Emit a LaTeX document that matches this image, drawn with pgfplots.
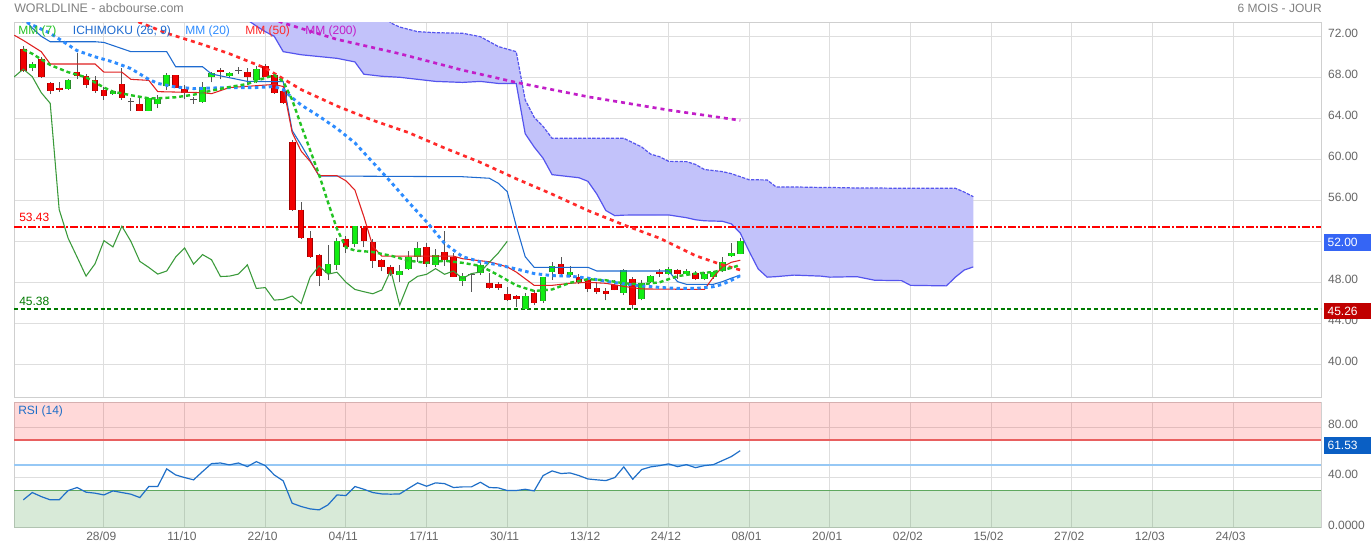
\documentclass[border=0pt]{standalone}
\usepackage{fontspec}
\setmainfont{Liberation Sans}
\usepackage{pgfplots}
\pgfplotsset{compat=1.18}
\usepackage{pgfplotstable}

\definecolor{gridc}{HTML}{DEDEDE}
\definecolor{framec}{HTML}{CFCFCF}
\definecolor{txtgray}{HTML}{666666}
\definecolor{titlegray}{HTML}{808080}
\definecolor{cgreen}{HTML}{11EE11}
\definecolor{cgreenD}{HTML}{2A8A2A}
\definecolor{cred}{HTML}{F20000}
\definecolor{credD}{HTML}{A00000}
\definecolor{wick}{HTML}{555555}
\definecolor{mm7}{HTML}{22C322}
\definecolor{mm20}{HTML}{2D8CFF}
\definecolor{mm50}{HTML}{FF2A2A}
\definecolor{mm200}{HTML}{C21EC8}
\definecolor{tenkan}{HTML}{E02020}
\definecolor{kijun}{HTML}{1E6BD0}
\definecolor{chikou}{HTML}{3A9A3A}
\definecolor{cloudfill}{HTML}{C2C2FA}
\definecolor{cloudline}{HTML}{5555EE}
\definecolor{supg}{HTML}{007A00}
\definecolor{rsiblue}{HTML}{1F6FC8}
\definecolor{boxblue}{HTML}{3565F5}
\definecolor{boxred}{HTML}{C00000}
\definecolor{boxrsi}{HTML}{0A5FC4}

% daily closes, index 0 = 28/09 (used for the lagging line, shifted 26 days back)
\pgfplotstableread{
i c
-9 68.6
-8 69.3
-7 68.0
-6 66.7
-5 66.8
-4 67.7
-3 68.1
-2 67.2
-1 66.7
0 66.2
1 66.7
2 66.0
3 65.6
4 64.75
5 65.95
6 65.85
7 68.2
8 67.0
9 66.5
10 65.8
11 67.1
12 68.4
13 68.5
14 68.4
15 68.7
16 68.06
17 68.8
18 68.06
19 66.5
20 65.46
21 55.1
22 52.3
23 50.46
24 48.6
25 49.8
26 52.06
27 51.45
28 53.47
29 52.0
30 50.04
31 49.45
32 48.8
33 49.1
34 50.46
35 51.34
36 49.77
37 50.7
38 50.2
39 48.56
40 48.6
41 48.8
42 49.7
43 47.4
44 47.48
45 46.26
46 46.33
47 46.66
48 45.93
49 48.5
50 49.6
51 48.8
52 48.98
53 48.0
54 47.3
55 47.08
56 46.88
57 47.25
58 49.15
59 45.77
60 47.97
61 48.58
62 48.78
63 49.33
64 48.78
65 49.1
66 48.36
67 48.85
68 49.0
69 49.95
70 50.86
71 52.0
}\closes

% Ichimoku cloud: a = lower (solid), b = upper (dashed)
\pgfplotstableread{
i a b
10 76 77
16 73.6 77
17 73.0 77
18 72.45 77
19 72.0 77
20 70.5 77
22 70.2 77
26 69.85 77
28 69.5 77
29 68.3 76
31 68.1 74.5
32 68.05 73.3
33 68.0 72.9
35 67.8 72.45
37 67.6 72.35
40 67.5 72.3
42 67.6 71.96
44 67.4 71.0
46 67.4 70.5
47 62.5 65.8
48 61.2 64.1
49 60.1 63.2
50 58.5 62.05
53 58.2 62.05
54 57.85 62.05
55 56.6 62.05
56 55.0 62.05
57 54.5 62.05
58 54.55 62.05
60 54.57 61.2
61 54.57 60.5
62 54.57 60.25
63 54.57 59.8
65 54.3 59.77
66 54.1 59.5
67 54.0 59.0
69 53.95 58.8
70 53.7 58.6
71 52.8 58.3
72 51.0 58.0
73 49.3 58.0
74 48.5 57.98
75 48.55 57.3
77 48.7 57.3
80 48.6 57.25
81 48.5 57.25
84 48.55 57.2
86 48.2 57.2
89 48.16 57.17
90 47.7 57.17
94 47.65 57.17
95 48.5 57.17
96 49.2 56.8
97 49.5 56.35
}\cloud

% RSI (14)
\pgfplotstableread{
i r
-9 22.4
-8 28.2
-7 25.0
-6 22.4
-5 22.4
-4 29.8
-3 32.2
-2 28.5
-1 27.7
0 26.3
1 29.5
2 28.2
3 26.9
4 24.2
5 33.0
6 33.0
7 47.0
8 42.2
9 40.1
10 38.3
11 44.9
12 51.2
13 51.7
14 50.2
15 51.7
16 48.8
17 52.8
18 49.6
19 42.2
20 37.5
21 19.7
22 17.1
23 15.2
24 14.4
25 18.4
26 26.3
27 25.8
28 33.0
29 30.8
30 28.2
31 27.1
32 26.9
33 27.1
34 31.6
35 35.9
36 33.2
37 35.9
38 35.3
39 32.2
40 32.7
41 32.7
42 36.4
43 32.2
44 31.9
45 29.8
46 29.8
47 30.8
48 29.5
49 41.7
50 45.4
51 43.3
52 43.8
53 41.7
54 39.0
55 38.3
56 37.7
57 40.1
58 48.6
59 38.8
60 46.5
61 48.6
62 49.6
63 51.0
64 48.8
65 50.4
66 48.0
67 49.6
68 50.4
69 53.6
70 56.8
71 61.5
}\rsi

\pgfplotsset{
  panel/.style={
    anchor=south west, scale only axis, width=980.25pt,
    xmin=-10.04, xmax=135.8,
    xtick={0,9,...,126},
    yticklabel pos=right,
    tick style={draw=none},
    grid=major, major grid style={draw=gridc, line width=0.75pt},
    axis line style={draw=framec, line width=0.75pt},
    tick label style={font=\fontsize{9}{10}\selectfont, text=txtgray},
    yticklabel style={anchor=west, xshift=1.8pt, yshift=2.25pt},
  },
  segs/.style={unbounded coords=jump, line cap=butt, mark=none},
}

\begin{document}
\begin{tikzpicture}
\fill[white] (0,0) rectangle (1028.25pt,412.5pt);

% ---------------- price panel ----------------
\begin{axis}[panel,
  at={(10.5pt,114pt)}, height=281.5pt,
  ymin=36.71, ymax=73.33,
  xticklabels={},
  ytick={40,44,...,72},
  yticklabels={40.00,44.00,48.00,,56.00,60.00,64.00,68.00,72.00},
]
% cloud area (upper edge left to right, lower edge back)
\addplot[fill=cloudfill, draw=none] coordinates {
(10,77) (28,77) (29,76) (31,74.5) (32,73.3) (33,72.9) (35,72.45) (37,72.35) (40,72.3) (42,71.96)
(44,71.0) (46,70.5) (47,65.8) (48,64.1) (49,63.2) (50,62.05) (58,62.05) (60,61.2) (61,60.5)
(62,60.25) (63,59.8) (65,59.77) (66,59.5) (67,59.0) (69,58.8) (70,58.6) (71,58.3) (72,58.0)
(74,57.98) (75,57.3) (77,57.3) (80,57.25) (84,57.2) (89,57.17) (95,57.17) (96,56.8) (97,56.35)
(97,49.5) (96,49.2) (95,48.5) (94,47.65) (90,47.7) (89,48.16) (86,48.2) (84,48.55) (81,48.5)
(80,48.6) (77,48.7) (75,48.55) (74,48.5) (73,49.3) (72,51.0) (71,52.8) (70,53.7) (69,53.95)
(67,54.0) (66,54.1) (65,54.3) (63,54.57) (58,54.55) (57,54.5) (56,55.0) (55,56.6) (54,57.85)
(53,58.2) (50,58.5) (49,60.1) (48,61.2) (47,62.5) (46,67.4) (44,67.4) (42,67.6) (40,67.5)
(37,67.6) (35,67.8) (33,68.0) (32,68.05) (31,68.1) (29,68.3) (28,69.5) (26,69.85) (22,70.2)
(20,70.5) (19,72.0) (18,72.45) (17,73.0) (16,73.6) (10,76)};
\addplot[cloudline, line width=0.9pt] table[x=i, y=a] \cloud;
\addplot[cloudline, line width=0.9pt, dash pattern=on 2.5pt off 1pt] table[x=i, y=b] \cloud;

% support / resistance
\addplot[red, line width=1.5pt, dash pattern=on 6pt off 1.5pt on 1.5pt off 1.5pt]
  coordinates {(-10.04,53.43) (135.8,53.43)};
\addplot[supg, line width=1.5pt, dash pattern=on 3pt off 2pt]
  coordinates {(-10.04,45.38) (135.8,45.38)};

% candles: wicks (low, high)
\addplot[segs, wick, line width=0.75pt] coordinates {
(-9,68.5) (-9,71.05) (-9,nan) (-8,68.6) (-8,69.5) (-8,nan) (-7,67.95) (-7,70.0) (-7,nan)
(-6,66.4) (-6,67.5) (-6,nan) (-5,66.6) (-5,67.5) (-5,nan) (-4,66.8) (-4,67.8) (-4,nan)
(-3,67.8) (-3,70.4) (-3,nan) (-2,67.0) (-2,68.3) (-2,nan) (-1,66.5) (-1,68.1) (-1,nan)
(0,65.8) (0,67.1) (0,nan) (1,66.3) (1,66.8) (1,nan) (2,65.8) (2,68.9) (2,nan)
(3,64.75) (3,65.95) (3,nan) (4,64.7) (4,66.1) (4,nan) (5,64.7) (5,66.0) (5,nan)
(6,65.0) (6,66.3) (6,nan) (7,66.8) (7,68.4) (7,nan) (8,67.0) (8,68.25) (8,nan)
(9,65.85) (9,67.2) (9,nan) (10,65.4) (10,66.1) (10,nan) (11,65.5) (11,67.5) (11,nan)
(12,67.5) (12,68.55) (12,nan) (13,67.8) (13,68.9) (13,nan) (14,68.0) (14,68.5) (14,nan)
(15,68.3) (15,69.0) (15,nan) (16,67.2) (16,68.9) (16,nan) (17,67.4) (17,69.1) (17,nan)
(18,68.0) (18,69.3) (18,nan) (19,66.4) (19,68.4) (19,nan) (20,65.4) (20,66.9) (20,nan)
(21,55.0) (21,61.9) (21,nan) (22,52.25) (22,55.8) (22,nan) (23,50.4) (23,53.0) (23,nan)
(24,47.6) (24,50.75) (24,nan) (25,48.2) (25,51.6) (25,nan) (26,49.2) (26,52.3) (26,nan)
(27,50.9) (27,52.5) (27,nan) (28,51.4) (28,53.5) (28,nan) (29,51.4) (29,53.5) (29,nan)
(30,49.4) (30,52.2) (30,nan) (31,49.06) (31,50.25) (31,nan) (32,48.57) (32,49.7) (32,nan)
(33,48.0) (33,49.65) (33,nan) (34,49.2) (34,51.1) (34,nan) (35,50.0) (35,51.9) (35,nan)
(36,49.5) (36,51.8) (36,nan) (37,49.5) (37,51.2) (37,nan) (38,49.6) (38,53.0) (38,nan)
(39,48.5) (39,50.9) (39,nan) (40,47.64) (40,48.95) (40,nan) (41,47.1) (41,48.9) (41,nan)
(42,48.7) (42,49.9) (42,nan) (43,47.3) (43,48.9) (43,nan) (44,47.25) (44,48.07) (44,nan)
(45,46.2) (45,47.5) (45,nan) (46,45.6) (46,46.75) (46,nan) (47,45.35) (47,46.98) (47,nan)
(48,45.77) (48,47.2) (48,nan) (49,46.0) (49,48.56) (49,nan) (50,48.2) (50,50.0) (50,nan)
(51,48.56) (51,50.5) (51,nan) (52,48.56) (52,49.6) (52,nan) (53,47.84) (53,48.8) (53,nan)
(54,47.1) (54,48.56) (54,nan) (55,46.85) (55,48.07) (55,nan) (56,46.26) (56,47.4) (56,nan)
(57,47.2) (57,48.2) (57,nan) (58,46.75) (58,49.28) (58,nan) (59,45.44) (59,48.56) (59,nan)
(60,46.24) (60,48.2) (60,nan) (61,47.9) (61,48.7) (61,nan) (62,48.5) (62,49.3) (62,nan)
(63,48.7) (63,49.5) (63,nan) (64,48.36) (64,49.33) (64,nan) (65,48.7) (65,49.33) (65,nan)
(66,48.2) (66,49.1) (66,nan) (67,48.2) (67,49.0) (67,nan) (68,48.36) (68,49.1) (68,nan)
(69,49.0) (69,50.5) (69,nan) (70,50.47) (70,51.84) (70,nan) (71,50.73) (71,52.3)};
% rising bodies (open, close)
\addplot[segs, cgreenD, line width=5pt] coordinates {
(-8,68.9) (-8,69.3) (-8,nan) (-4,66.9) (-4,67.7) (-4,nan) (1,66.4) (1,66.7) (1,nan)
(5,64.75) (5,65.95) (5,nan) (6,65.36) (6,65.85) (6,nan) (7,67.15) (7,68.2) (7,nan)
(11,65.6) (11,67.1) (11,nan) (12,68.0) (12,68.4) (12,nan) (14,68.15) (14,68.4) (14,nan)
(17,67.7) (17,68.8) (17,nan) (25,48.9) (25,49.8) (25,nan) (26,49.7) (26,52.06) (26,nan)
(28,51.77) (28,53.47) (28,nan) (33,48.7) (33,49.1) (33,nan) (34,49.28) (34,50.46) (34,nan)
(35,50.5) (35,51.34) (35,nan) (37,49.7) (37,50.7) (37,nan) (40,48.16) (40,48.6) (40,nan)
(42,48.9) (42,49.7) (42,nan) (47,45.44) (47,46.66) (47,nan) (49,46.2) (49,48.5) (49,nan)
(50,49.05) (50,49.6) (50,nan) (52,48.72) (52,48.98) (52,nan) (58,46.98) (58,49.15) (58,nan)
(60,46.34) (60,47.97) (60,nan) (61,48.03) (61,48.58) (61,nan) (63,48.85) (63,49.33) (63,nan)
(65,48.78) (65,49.1) (65,nan) (67,48.3) (67,48.85) (67,nan) (68,48.5) (68,49.0) (68,nan)
(69,49.1) (69,49.95) (69,nan) (70,50.54) (70,50.86) (70,nan) (71,50.8) (71,52.0)};
\addplot[segs, cgreen, line width=3.5pt] coordinates {
(-8,68.9) (-8,69.3) (-8,nan) (-4,66.9) (-4,67.7) (-4,nan) (1,66.4) (1,66.7) (1,nan)
(5,64.75) (5,65.95) (5,nan) (6,65.36) (6,65.85) (6,nan) (7,67.15) (7,68.2) (7,nan)
(11,65.6) (11,67.1) (11,nan) (12,68.0) (12,68.4) (12,nan) (14,68.15) (14,68.4) (14,nan)
(17,67.7) (17,68.8) (17,nan) (25,48.9) (25,49.8) (25,nan) (26,49.7) (26,52.06) (26,nan)
(28,51.77) (28,53.47) (28,nan) (33,48.7) (33,49.1) (33,nan) (34,49.28) (34,50.46) (34,nan)
(35,50.5) (35,51.34) (35,nan) (37,49.7) (37,50.7) (37,nan) (40,48.16) (40,48.6) (40,nan)
(42,48.9) (42,49.7) (42,nan) (47,45.44) (47,46.66) (47,nan) (49,46.2) (49,48.5) (49,nan)
(50,49.05) (50,49.6) (50,nan) (52,48.72) (52,48.98) (52,nan) (58,46.98) (58,49.15) (58,nan)
(60,46.34) (60,47.97) (60,nan) (61,48.03) (61,48.58) (61,nan) (63,48.85) (63,49.33) (63,nan)
(65,48.78) (65,49.1) (65,nan) (67,48.3) (67,48.85) (67,nan) (68,48.5) (68,49.0) (68,nan)
(69,49.1) (69,49.95) (69,nan) (70,50.54) (70,50.86) (70,nan) (71,50.8) (71,52.0)};
% falling bodies (open, close)
\addplot[segs, credD, line width=5pt] coordinates {
(-9,70.8) (-9,68.6) (-9,nan) (-7,69.8) (-7,68.0) (-7,nan) (-6,67.4) (-6,66.7) (-6,nan)
(-5,67.0) (-5,66.8) (-5,nan) (-3,68.5) (-3,68.1) (-3,nan) (-2,68.1) (-2,67.2) (-2,nan)
(-1,67.7) (-1,66.7) (-1,nan) (0,66.8) (0,66.2) (0,nan) (2,67.3) (2,66.0) (2,nan)
(4,65.4) (4,64.75) (4,nan) (8,68.2) (8,67.0) (8,nan) (9,66.9) (9,66.5) (9,nan)
(13,68.7) (13,68.5) (13,nan) (16,68.5) (16,68.06) (16,nan) (18,69.1) (18,68.06) (18,nan)
(19,68.2) (19,66.5) (19,nan) (20,66.7) (20,65.46) (20,nan) (21,61.7) (21,55.1) (21,nan)
(22,55.1) (22,52.3) (22,nan) (23,52.3) (23,50.46) (23,nan) (24,50.7) (24,48.6) (24,nan)
(27,52.26) (27,51.45) (27,nan) (29,53.34) (29,52.0) (29,nan) (30,51.93) (30,50.04) (30,nan)
(31,50.2) (31,49.45) (31,nan) (32,49.5) (32,48.8) (32,nan) (36,51.44) (36,49.77) (36,nan)
(38,51.0) (38,50.2) (38,nan) (39,50.46) (39,48.56) (39,nan) (43,47.97) (43,47.4) (43,nan)
(44,47.84) (44,47.48) (44,nan) (45,46.9) (45,46.26) (45,nan) (46,46.66) (46,46.33) (46,nan)
(48,46.98) (48,45.93) (48,nan) (51,49.8) (51,48.8) (51,nan) (53,48.56) (53,48.0) (53,nan)
(54,48.3) (54,47.3) (54,nan) (55,47.4) (55,47.08) (55,nan) (56,47.15) (56,46.88) (56,nan)
(57,47.74) (57,47.25) (57,nan) (59,48.3) (59,45.77) (59,nan) (62,49.0) (62,48.78) (62,nan)
(64,49.23) (64,48.78) (64,nan) (66,48.9) (66,48.36)};
\addplot[segs, cred, line width=3.5pt] coordinates {
(-9,70.8) (-9,68.6) (-9,nan) (-7,69.8) (-7,68.0) (-7,nan) (-6,67.4) (-6,66.7) (-6,nan)
(-5,67.0) (-5,66.8) (-5,nan) (-3,68.5) (-3,68.1) (-3,nan) (-2,68.1) (-2,67.2) (-2,nan)
(-1,67.7) (-1,66.7) (-1,nan) (0,66.8) (0,66.2) (0,nan) (2,67.3) (2,66.0) (2,nan)
(4,65.4) (4,64.75) (4,nan) (8,68.2) (8,67.0) (8,nan) (9,66.9) (9,66.5) (9,nan)
(13,68.7) (13,68.5) (13,nan) (16,68.5) (16,68.06) (16,nan) (18,69.1) (18,68.06) (18,nan)
(19,68.2) (19,66.5) (19,nan) (20,66.7) (20,65.46) (20,nan) (21,61.7) (21,55.1) (21,nan)
(22,55.1) (22,52.3) (22,nan) (23,52.3) (23,50.46) (23,nan) (24,50.7) (24,48.6) (24,nan)
(27,52.26) (27,51.45) (27,nan) (29,53.34) (29,52.0) (29,nan) (30,51.93) (30,50.04) (30,nan)
(31,50.2) (31,49.45) (31,nan) (32,49.5) (32,48.8) (32,nan) (36,51.44) (36,49.77) (36,nan)
(38,51.0) (38,50.2) (38,nan) (39,50.46) (39,48.56) (39,nan) (43,47.97) (43,47.4) (43,nan)
(44,47.84) (44,47.48) (44,nan) (45,46.9) (45,46.26) (45,nan) (46,46.66) (46,46.33) (46,nan)
(48,46.98) (48,45.93) (48,nan) (51,49.8) (51,48.8) (51,nan) (53,48.56) (53,48.0) (53,nan)
(54,48.3) (54,47.3) (54,nan) (55,47.4) (55,47.08) (55,nan) (56,47.15) (56,46.88) (56,nan)
(57,47.74) (57,47.25) (57,nan) (59,48.3) (59,45.77) (59,nan) (62,49.0) (62,48.78) (62,nan)
(64,49.23) (64,48.78) (64,nan) (66,48.9) (66,48.36)};
% crosses (open = close)
\addplot[segs, wick, line width=5pt] coordinates {
(3,65.55) (3,65.65) (3,nan) (10,65.75) (10,65.85) (10,nan) (15,68.65) (15,68.75) (15,nan)
(41,48.75) (41,48.85)};

% Ichimoku lines
\addplot[kijun, line width=0.8pt] coordinates {
(-10,74.3) (-9,73.8) (-8,72.8) (-7,72.0) (-6,71.47) (-1,71.47) (0,71.4) (3,70.5) (7,70.5) (8,69.03)
(11,69.03) (12,68.32) (16,67.6) (20,67.57) (21,62.8) (22,61.4) (23,59.9) (24,58.37) (40,58.3)
(43,58.15) (44,57.66) (45,56.84) (46,53.5) (47,50.5) (48,49.46) (54,49.46) (55,49.1) (63,49.1)
(64,48.06) (65,47.8) (68,47.8) (69,48.06) (70,48.4) (71,48.7)};
\addplot[tenkan, line width=0.8pt] coordinates {
(-10,72.1) (-9,71.6) (-7,70.5) (-6,69.3) (-1,69.3) (0,68.5) (2,68.5) (3,67.8) (5,67.7)
(6,66.6) (11,66.5) (12,66.4) (14,67.0) (19,67.3) (20,67.1) (21,62.6) (22,60.8) (23,59.8)
(24,58.4) (26,58.4) (27,57.9) (28,57.0) (29,54.4) (30,51.5) (31,50.55) (39,50.55) (40,50.3)
(43,50.0) (45,49.5) (46,49.0) (48,47.7) (50,47.7) (52,47.9) (54,48.0) (56,47.9) (58,47.6)
(60,47.35) (67,47.3) (68,48.5) (69,49.5) (70,49.95) (71,50.15)};
\addplot[chikou, line width=0.8pt] table[x expr=\thisrow{i}-26, y=c] \closes;

% moving averages
\addplot[mm200, line width=2pt, dash pattern=on 3pt off 3pt] coordinates {
(17,74.3) (20,73.3) (26,71.7) (33,70.3) (40,68.7) (46,67.5) (54,66.1) (63,64.8) (71,63.8)};
\addplot[mm50, line width=2pt, dash pattern=on 3pt off 3pt] coordinates {
(3,73.7) (7,72.3) (11,71.2) (14,70.3) (18,68.9) (22,66.8) (26,65.2) (30,63.8) (34,62.6)
(38,61.1) (42,59.7) (46,58.1) (50,56.6) (54,55.0) (58,53.6) (62,52.3) (66,50.6) (69,49.7) (71,49.2)};
\addplot[mm20, line width=2.2pt, dash pattern=on 2.6pt off 2.6pt] coordinates {
(-10,73.9) (-8,73.1) (-6,72.3) (-3,70.6) (-1,70.0) (1,69.5) (3,68.85) (5,67.8) (6,67.4)
(8,67.05) (10,66.9) (12,66.95) (14,67.0) (17,67.0) (19,67.1) (20,66.8) (21,66.0) (22,65.3)
(24,64.2) (26,63.0) (28,61.6) (30,59.7) (32,57.8) (34,55.8) (36,53.9) (38,51.8) (40,50.5)
(42,50.0) (44,49.7) (46,49.3) (48,48.85) (50,48.65) (52,48.6) (54,48.4) (56,48.1) (58,47.85)
(60,47.65) (62,47.5) (64,47.4) (66,47.4) (68,47.57) (69,47.8) (70,48.2) (71,48.65)};
\addplot[mm7, line width=1.8pt, dash pattern=on 3pt off 2.2pt] coordinates {
(-9,70.7) (-8,70.3) (-6,69.2) (-4,68.5) (-2,68.0) (0,67.0) (1,66.6) (3,66.25) (5,65.95)
(6,65.95) (8,66.05) (10,66.3) (12,66.7) (14,67.05) (16,67.35) (18,67.95) (19,68.2) (20,67.6)
(21,65.8) (22,63.3) (23,60.9) (24,58.5) (25,55.8) (26,53.2) (27,51.4) (28,51.1) (30,50.95)
(32,50.6) (34,50.1) (36,49.9) (38,50.1) (40,49.9) (42,49.6) (44,48.7) (46,47.7) (48,47.15)
(50,47.3) (52,47.95) (54,48.3) (56,48.2) (58,47.9) (60,47.8) (62,48.0) (64,48.6) (66,48.85)
(68,49.0) (70,49.4) (71,49.7)};
\end{axis}

% ---------------- RSI panel ----------------
\begin{axis}[panel,
  at={(10.5pt,16.5pt)}, height=94.3pt,
  ymin=0, ymax=100,
  xticklabels={28/09,11/10,22/10,04/11,17/11,30/11,13/12,24/12,08/01,20/01,02/02,15/02,27/02,12/03,24/03},
  xticklabel style={xshift=-2pt, yshift=0.5pt},
  ytick={0,40,80},
  yticklabels={0.0000,40.00,80.00},
]
\addplot[fill=red, fill opacity=0.15, draw=none] coordinates {(-10.04,70) (135.8,70) (135.8,100) (-10.04,100)};
\addplot[fill={rgb,255:red,60;green,150;blue,60}, fill opacity=0.2, draw=none] coordinates {(-10.04,0) (135.8,0) (135.8,30) (-10.04,30)};
\addplot[color={rgb,255:red,232;green,96;blue,96}, line width=0.8pt] coordinates {(-10.04,70) (135.8,70)};
\addplot[color={rgb,255:red,150;green,200;blue,245}, line width=1pt] coordinates {(-10.04,50) (135.8,50)};
\addplot[color={rgb,255:red,95;green,168;blue,95}, line width=0.8pt] coordinates {(-10.04,30) (135.8,30)};
\addplot[rsiblue, line width=0.9pt] table[x=i, y=r] \rsi;
\end{axis}

% ---------------- texts ----------------
\begin{scope}[every node/.style={inner sep=0pt, anchor=west, font=\fontsize{9}{10}\selectfont}]
\node[text=titlegray, font=\fontsize{9.3}{10}\selectfont] at (10.5pt,406.5pt) {WORLDLINE - abcbourse.com};
\node[text=titlegray, anchor=east] at (991.5pt,406.5pt) {6 MOIS - JOUR};
\node[text=mm7] at (13.5pt,389.25pt) {MM (7)};
\node[text=kijun] at (54.5pt,389.25pt) {ICHIMOKU (26, 9)};
\node[text=mm20] at (138.75pt,389.25pt) {MM (20)};
\node[text=mm50] at (183.75pt,389.25pt) {MM (50)};
\node[text=mm200] at (228.75pt,389.25pt) {MM (200)};
\node[text=red] at (14.25pt,249.2pt) {53.43};
\node[text=supg] at (14.25pt,186.7pt) {45.38};
\node[text=rsiblue] at (13.5pt,104.25pt) {RSI (14)};
% last-value boxes
\fill[boxblue] (993pt,224.6pt) rectangle (1028.25pt,237.1pt);
\node[text=white] at (995.5pt,230.85pt) {52.00};
\fill[boxred] (993pt,172.9pt) rectangle (1028.25pt,185.4pt);
\node[text=white] at (995.5pt,179.15pt) {45.26};
\fill[boxrsi] (993pt,72pt) rectangle (1028.25pt,84.5pt);
\node[text=white] at (995.5pt,78.25pt) {61.53};
\end{scope}
\pgfresetboundingbox
\path[use as bounding box] (0,0) rectangle (1028.25pt,412.5pt);
\end{tikzpicture}
\end{document}
